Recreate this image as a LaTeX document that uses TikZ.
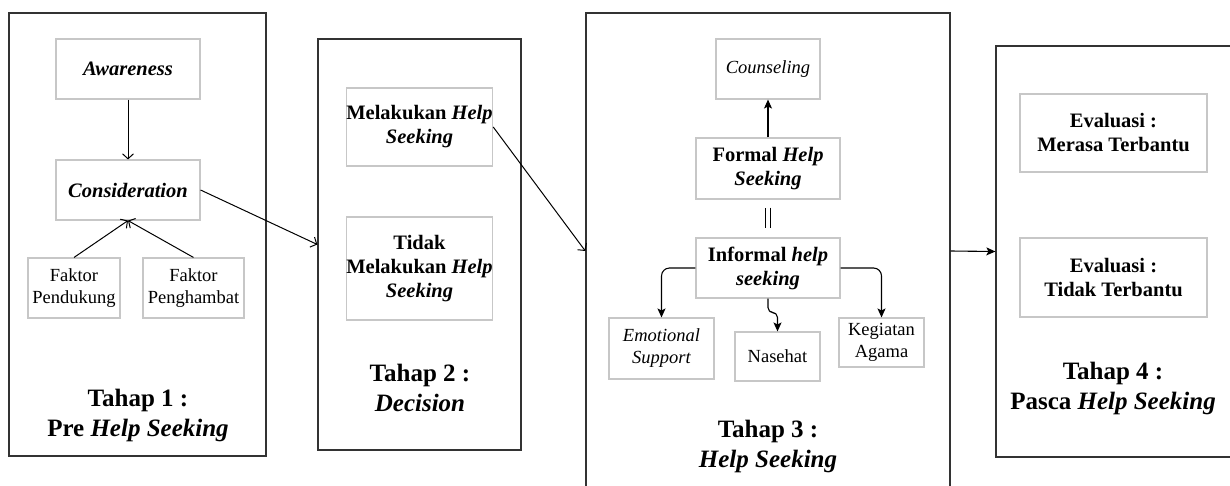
\documentclass[tikz,border=0pt]{standalone}
\usepackage{fontspec}
\setmainfont{Liberation Serif}
\usetikzlibrary{arrows.meta}

\tikzset{
  stage/.style={draw=black!80, line width=1.3pt, inner sep=0pt},
  item/.style={draw=black!22, line width=1.1pt, align=center, inner sep=0pt,
    font=\fontsize{18.5}{22}\selectfont},
  bolditem/.style={item, font=\fontsize{20.5}{24}\selectfont\bfseries},
  title/.style={align=center, font=\fontsize{25}{30}\selectfont\bfseries},
  openarr/.style={-{Straight Barb[length=5pt,width=11pt]}, line width=1pt},
  fillarr/.style={-{Stealth[length=9pt,width=8pt,inset=2pt]}, line width=1.1pt},
}

\begin{document}
\begin{tikzpicture}[x=1pt,y=-1pt]
  \path[use as bounding box, clip] (0,0) rectangle (1230,485);

  % Tahap 1
  \node[stage, minimum width=257pt, minimum height=443pt] (stage1) at (137.5,234.5) {};
  \node[bolditem, minimum width=144pt, minimum height=60pt] (aw) at (128,69)
    {\itshape Awareness};
  \node[bolditem, minimum width=144pt, minimum height=60pt] (con) at (128,190)
    {\itshape Consideration};
  \node[item, minimum width=92pt, minimum height=60pt] (fp) at (74,288)
    {Faktor\\Pendukung};
  \node[item, minimum width=101pt, minimum height=60pt] (fh) at (193.5,288)
    {Faktor\\Penghambat};
  \node[title] (title1) at (138,415) {Tahap 1 :\\Pre \textit{Help Seeking}};
  \draw[openarr] (aw) -- (con);
  \draw[openarr] (fp.north) -- (con.south);
  \draw[openarr] (fh.north) -- (con.south);

  % Tahap 2
  \node[stage, minimum width=203pt, minimum height=411pt] (stage2) at (419.5,244.5) {};
  \node[bolditem, minimum width=145pt, minimum height=78pt] (mel) at (419.5,127)
    {Melakukan \textit{Help}\\\itshape Seeking};
  \node[bolditem, minimum width=145pt, minimum height=103pt] (tid) at (419.5,268.5)
    {Tidak\\Melakukan \textit{Help}\\\itshape Seeking};
  \node[title] (title2) at (420,388) {Tahap 2 :\\\textit{Decision}};
  \draw[openarr] (con.east) -- (stage2.west);

  % Tahap 3
  \node[stage, minimum width=364pt, minimum height=476pt] (stage3) at (768,251) {};
  \node[item, minimum width=104pt, minimum height=60pt] (cou) at (768,69)
    {\itshape Counseling};
  \node[bolditem, minimum width=144pt, minimum height=61pt] (frm) at (768,168.5)
    {Formal \textit{Help}\\\itshape Seeking};
  \node[bolditem, minimum width=144pt, minimum height=60pt] (inf) at (768,268)
    {Informal \textit{help}\\\itshape seeking};
  \node[item, minimum width=105pt, minimum height=61pt] (emo) at (661.5,348.5)
    {\itshape Emotional\\\itshape Support};
  \node[item, minimum width=85pt, minimum height=49pt] (nas) at (777.5,356.5)
    {Nasehat};
  \node[item, minimum width=85pt, minimum height=49pt] (keg) at (881.5,342.5)
    {Kegiatan\\Agama};
  \node[title] (title3) at (768,446) {Tahap 3 :\\\textit{Help Seeking}};
  \draw[openarr] (mel.east) -- (stage3.west);
  \draw[fillarr] (frm) -- (cou);
  \draw[double, double distance=4pt, line width=0.9pt, shorten <=8pt, shorten >=9pt]
    (frm) -- (inf);
  \draw[fillarr, rounded corners=8pt] (inf.west) -| (emo.north);
  \draw[fillarr, rounded corners=8pt] (inf.east) -| (keg.north);
  \draw[fillarr, rounded corners=5pt] (inf.south) -- ++(0,14) -| (nas.north);

  % Tahap 4
  \node[stage, minimum width=254pt, minimum height=411pt] (stage4) at (1123,251.5) {};
  \node[bolditem, minimum width=187pt, minimum height=78pt] (ev1) at (1113.5,133)
    {Evaluasi :\\Merasa Terbantu};
  \node[bolditem, minimum width=187pt, minimum height=79pt] (ev2) at (1113.5,277.5)
    {Evaluasi :\\Tidak Terbantu};
  \node[title] (title4) at (1113,388) {Tahap 4 :\\Pasca \textit{Help Seeking}};
  \draw[fillarr] (stage3.east) -- (stage4.west);
\end{tikzpicture}
\end{document}
